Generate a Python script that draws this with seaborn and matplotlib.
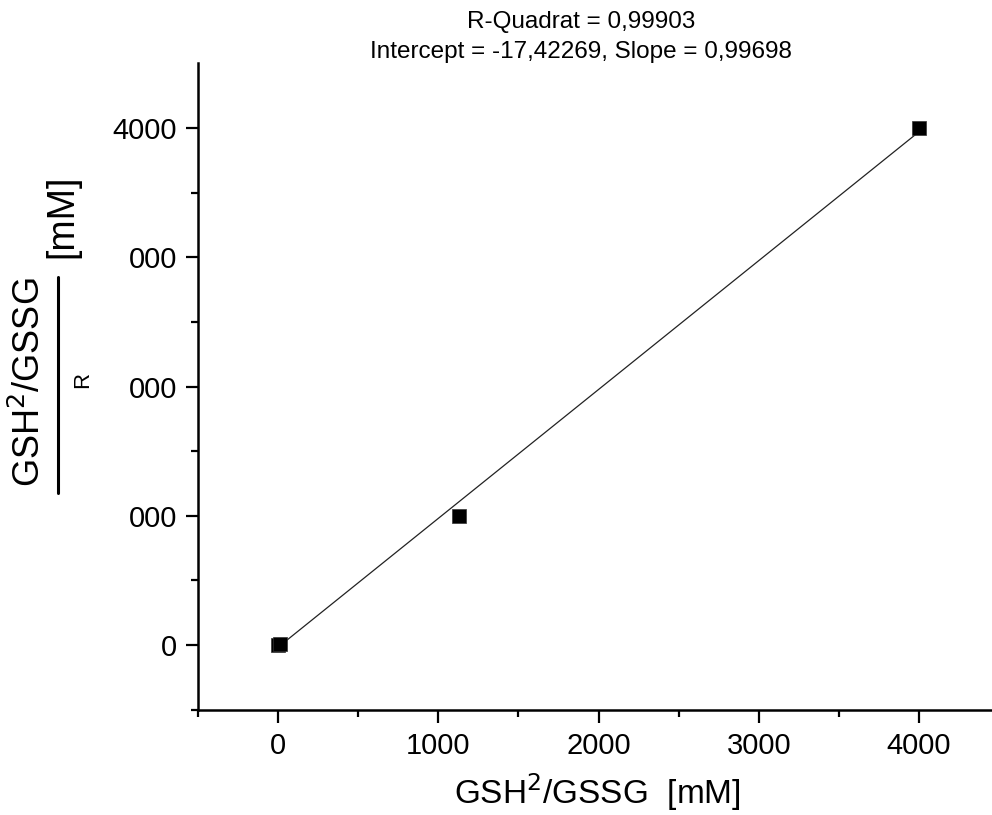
import numpy as np
import pandas as pd
import matplotlib
matplotlib.use("Agg")
import matplotlib.pyplot as plt
from matplotlib.lines import Line2D
import seaborn as sns

# Measured ratios: reference value vs. determined value
x_values = [0, 12, 1131, 4000]
y_values = [0, 8, 1000, 4000]

# Linear fit parameters
r_squared = "0,99903"
intercept = -17.42269
slope = 0.99698
intercept_text = "-17,42269"
slope_text = "0,99698"

y_ticks = [0, 1000, 2000, 3000, 4000]
y_tick_labels = ["0", "000", "000", "000", "4000"]
x_ticks = [0, 1000, 2000, 3000, 4000]
x_tick_labels = ["0", "1000", "2000", "3000", "4000"]

sns.set_theme(style="ticks")
plt.rcParams["font.family"] = ["Liberation Sans", "DejaVu Sans"]

fig = plt.figure(figsize=(9.92, 8.15), dpi=100)
W, H = 992, 815
ax = fig.add_axes([198 / W, 1 - 709.6 / H, (999 - 198) / W, (709.6 - 63.4) / H])

df = pd.DataFrame({"x": x_values, "y": y_values})
fit_x = np.array([min(x_values), max(x_values)])
fit_df = pd.DataFrame({"x": fit_x, "y": intercept + slope * fit_x})

sns.lineplot(data=fit_df, x="x", y="y", ax=ax, color="#222222", linewidth=0.9, zorder=2)
sns.scatterplot(data=df, x="x", y="y", ax=ax, marker="s", s=110, color="black",
                edgecolor="#333333", linewidth=0.5, zorder=3)

ax.set_xlim(-500, 4500)
ax.set_ylim(-500, 4500)

ax.set_xticks(x_ticks)
ax.set_xticklabels(x_tick_labels)
ax.set_yticks(y_ticks)
ax.set_yticklabels(y_tick_labels)
ax.set_xticks([-500, 500, 1500, 2500, 3500], minor=True)
ax.set_yticks([-500, 500, 1500, 2500, 3500], minor=True)

for side in ["top", "right"]:
    ax.spines[side].set_visible(False)
for side in ["left", "bottom"]:
    ax.spines[side].set_linewidth(1.8)
    ax.spines[side].set_color("black")

ax.tick_params(axis="both", which="major", length=9, width=1.6, color="black",
               labelsize=21, labelcolor="black", direction="out")
ax.tick_params(axis="both", which="minor", length=5, width=1.6, color="black",
               direction="out")
ax.tick_params(axis="x", which="major", pad=7)
ax.tick_params(axis="y", which="major", pad=6)

ax.set_xlabel("")
ax.set_ylabel("")

# x axis title
fig.text(597.5 / W, 1 - 792 / H, "GSH$^2$/GSSG  [mM]", fontsize=24,
         ha="center", va="center", color="black")

# y axis title built as a fraction
fig.text(30 / W, 1 - 382 / H, "GSH$^2$/GSSG", fontsize=26, rotation=90,
         ha="center", va="center", color="black")
fig.add_artist(Line2D([58 / W, 58 / W], [1 - 277 / H, 1 - 493 / H],
                      transform=fig.transFigure, color="black", linewidth=2.2))
fig.text(83 / W, 1 - 380 / H, "R", fontsize=16, rotation=90,
         ha="center", va="center", color="black")
fig.text(62 / W, 1 - 216 / H, "[mM]", fontsize=27, rotation=90,
         ha="center", va="center", color="black")

# fit statistics
fig.text(581 / W, 1 - 22 / H, f"R-Quadrat = {r_squared}", fontsize=17.5,
         ha="center", va="center", color="black")
fig.text(581 / W, 1 - 52 / H, f"Intercept = {intercept_text}, Slope = {slope_text}",
         fontsize=17.5, ha="center", va="center", color="black")

fig.savefig("out.png", dpi=100, facecolor="white")
